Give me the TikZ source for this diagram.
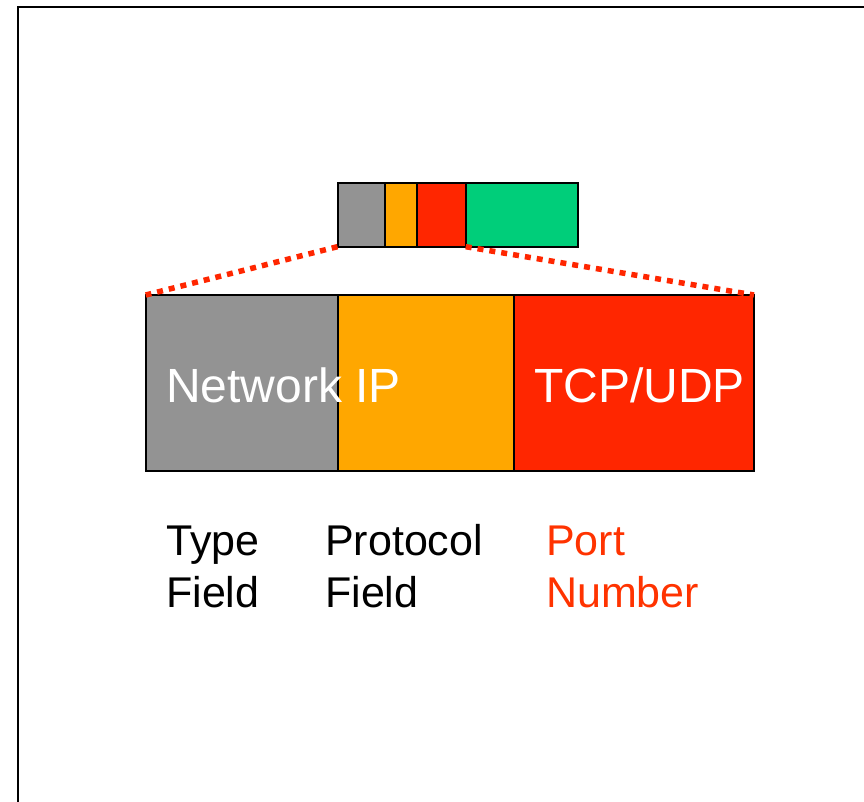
\documentclass[tikz,border=0pt]{standalone}
\usepackage{fontspec}
\setmainfont{Liberation Sans}
\usetikzlibrary{positioning}
\definecolor{fgray}{RGB}{147,147,147}
\definecolor{forange}{RGB}{255,167,0}
\definecolor{fred}{RGB}{255,38,0}
\definecolor{fgreen}{RGB}{0,206,122}
\definecolor{portred}{RGB}{255,51,0}
\begin{document}
\begin{tikzpicture}[x=1pt,y=-1pt,line join=miter,
    field/.style={draw,line width=2pt,inner sep=0pt,outer sep=0pt},
    zoomline/.style={fred,line width=5.5pt,dash pattern=on 6pt off 6pt},
    bigtext/.style={white,font=\fontsize{48}{48}\selectfont,anchor=base west,inner sep=0pt},
    fieldname/.style={font=\fontsize{43}{52}\selectfont,align=left,anchor=base west,inner sep=0pt}]
  \def\sh{63.4} \def\bh{175.7}
  \useasboundingbox (0,0) rectangle (864,802);
  \draw[line width=2.5pt] (17.8,802) -- (17.8,7) -- (864,7);
  % small header
  \node[field,fill=fgray,anchor=north west,minimum width=47.8,minimum height=\sh] (sgray) at (337.5,183.3) {};
  \node[field,fill=forange,minimum width=32,minimum height=\sh,right=0pt of sgray] (sorange) {};
  \node[field,fill=fred,minimum width=48.4,minimum height=\sh,right=0pt of sorange] (sred) {};
  \node[field,fill=fgreen,minimum width=112,minimum height=\sh,right=0pt of sred] (sgreen) {};
  % zoomed fields
  \node[field,fill=fgray,anchor=north west,minimum width=192.6,minimum height=\bh] (bgray) at (145.7,295) {};
  \node[field,fill=forange,minimum width=175.7,minimum height=\bh,right=0pt of bgray] (borange) {};
  \node[field,fill=fred,minimum width=240,minimum height=\bh,right=0pt of borange] (bred) {};
  \draw[zoomline] (sgray.south west) -- (bgray.north west);
  \draw[zoomline] (sred.south east) -- (bred.north east);
  \node[bigtext] (nettext) at (166,402) {Network IP};
  \node[bigtext] (tcptext) at (534,402) {TCP/UDP};
  % last line sits on the anchor
  \node[fieldname] (typef) at (166,607) {Type\\Field};
  \node[fieldname] (protof) at (325,607) {Protocol\\Field};
  \node[fieldname,text=portred] (portf) at (546,607) {Port\\Number};
\end{tikzpicture}
\end{document}
